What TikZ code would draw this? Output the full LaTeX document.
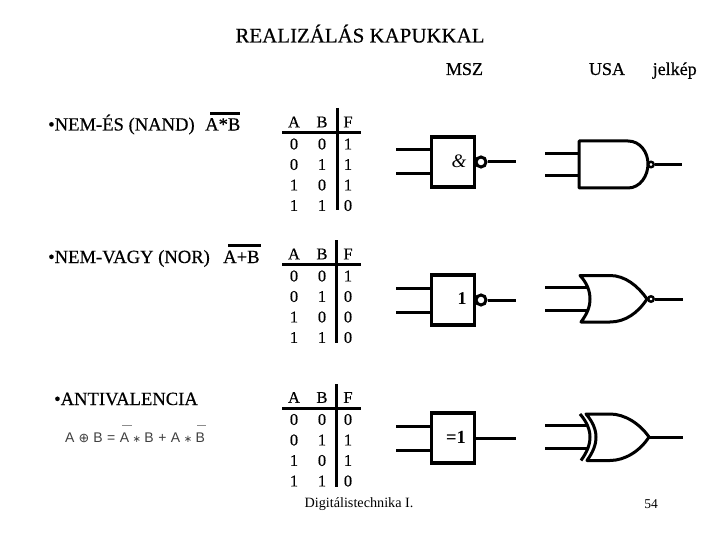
\documentclass[tikz,border=0pt]{standalone}
\usepackage{fontspec}
\setmainfont{Liberation Serif}
\newfontfamily\arialf{Liberation Sans}
\newfontfamily\dejaf{DejaVu Sans}
\newfontfamily\heavyf[FakeBold=0.5]{Liberation Serif}
\tikzset{
  x=1pt,y=-1pt,
  wire/.style={line width=3pt},
  thinw/.style={line width=3pt},
  gatebox/.style={draw,line width=3.6pt,minimum width=43pt,minimum height=50pt,inner sep=0pt},
  bubble/.style={draw,circle,line width=3pt,minimum size=10pt,inner sep=0pt,fill=white},
  usabubble/.style={draw,circle,line width=2.4pt,minimum size=5.5pt,inner sep=0pt,fill=white},
  gatebody/.style={line width=3pt,line join=round},
  cell/.style={inner sep=0pt,font=\heavyf\fontsize{16.5}{16}\selectfont},
  rulew/.style={line width=3pt},
  label/.style={inner sep=0pt,font=\heavyf\fontsize{18.6}{18}\selectfont,anchor=base west},
  head/.style={inner sep=0pt,font=\heavyf\fontsize{18}{18}\selectfont,anchor=base},
  foot/.style={inner sep=0pt,font=\fontsize{14.2}{14}\selectfont},
  form/.style={inner sep=0pt,text=black!75,font=\arialf\fontsize{14}{14}\selectfont},
  barg/.style={line width=1.5pt,black!45}
}
\newcommand{\ttable}[9]{%
  \coordinate (#1hl) at (282,#2); \coordinate (#1hr) at (361,#2);
  \coordinate (#1vt) at (#3,#4); \coordinate (#1vb) at (#3,#5);
  \draw[rulew] (#1hl) -- (#1hr);
  \draw[rulew] (#1vt) -- (#1vb);
  \node[cell] (#1a) at (294,#2-10.5) {A};
  \node[cell] (#1b) at (322,#2-10.5) {B};
  \node[cell] (#1f) at (348,#2-10.5) {F};
  \node[cell] (#1a0) at (294,#2+11.5) {0};
  \node[cell] (#1b0) at (322,#2+11.5) {0};
  \node[cell] (#1f0) at (348,#2+11.5) {#6};
  \node[cell] (#1a1) at (294,#2+32) {0};
  \node[cell] (#1b1) at (322,#2+32) {1};
  \node[cell] (#1f1) at (348,#2+32) {#7};
  \node[cell] (#1a2) at (294,#2+52.5) {1};
  \node[cell] (#1b2) at (322,#2+52.5) {0};
  \node[cell] (#1f2) at (348,#2+52.5) {#8};
  \node[cell] (#1a3) at (294,#2+73) {1};
  \node[cell] (#1b3) at (322,#2+73) {1};
  \node[cell] (#1f3) at (348,#2+73) {#9};
}
\begin{document}
\begin{tikzpicture}
\useasboundingbox[fill=white] (0,0) rectangle (720,540);
% titles
\node[head,font=\heavyf\fontsize{20.9}{20}\selectfont] (title) at (360,42.5) {REALIZÁLÁS KAPUKKAL};
\node[head] (msz) at (464.5,75) {MSZ};
\node[head] (usa) at (607,75) {USA};
\node[head] (jel) at (674.7,75) {jelkép};
% left labels
\node[label] (l1) at (48,130.5) {•NEM-ÉS (NAND)};
\node[label] (l1f) at (205,130.5) {A*B};
\coordinate (b1a) at (210,114); \coordinate (b1b) at (240,114);
\draw[rulew] (b1a) -- (b1b);
\node[label] (l2) at (48,263) {•NEM-VAGY (NOR)};
\node[label] (l2f) at (223,263) {A+B};
\coordinate (b2a) at (228,245.5); \coordinate (b2b) at (261,245.5);
\draw[rulew] (b2a) -- (b2b);
\node[label] (l3) at (54,405) {•ANTIVALENCIA};
% formula
\node[form,anchor=base west] (fm) at (65,442) {A\hspace{4pt}{\dejaf\fontsize{12.8}{14}\selectfont ⊕}\hspace{4pt}B\hspace{4.5pt}=\hspace{4.5pt}A\hspace{3.5pt}{\dejaf\fontsize{10}{14}\selectfont ∗}\hspace{3.5pt}B\hspace{4.5pt}+\hspace{4.5pt}A\hspace{3.5pt}{\dejaf\fontsize{10}{14}\selectfont ∗}\hspace{3.5pt}B};
\coordinate (f1a) at (122,425.5); \coordinate (f1b) at (132,425.5);
\coordinate (f2a) at (197,425.5); \coordinate (f2b) at (206,425.5);
\draw[barg] (f1a) -- (f1b);
\draw[barg] (f2a) -- (f2b);
% tables
\ttable{p}{132.5}{337}{108}{210}{1}{1}{1}{0}
\ttable{q}{264.5}{336}{240}{343}{1}{0}{0}{0}
\ttable{r}{408}{336}{384}{486.5}{0}{1}{1}{0}
% MSZ gates
\node[gatebox] (g1) at (453,162) {};
\node[inner sep=0pt,font=\itshape\fontsize{19}{18}\selectfont] (g1t) at (459,161) {\&};
\node[bubble] (g1b) at (481,162) {};
\coordinate (g1i1) at (396,150); \coordinate (g1i2) at (396,174); \coordinate (g1o) at (516,162);
\draw[wire] (g1i1) -- (g1i1 -| g1.west);
\draw[wire] (g1i2) -- (g1i2 -| g1.west);
\draw[wire] (g1b.east) -- (g1o);
\node[gatebox] (g2) at (453,300) {};
\node[inner sep=0pt,font=\bfseries\fontsize{18}{18}\selectfont] (g2t) at (462,299) {1};
\node[bubble] (g2b) at (481,300) {};
\coordinate (g2i1) at (396,288); \coordinate (g2i2) at (396,312); \coordinate (g2o) at (516,300);
\draw[wire] (g2i1) -- (g2i1 -| g2.west);
\draw[wire] (g2i2) -- (g2i2 -| g2.west);
\draw[wire] (g2b.east) -- (g2o);
\node[gatebox] (g3) at (453,438) {};
\node[inner sep=0pt,font=\bfseries\fontsize{18.5}{18}\selectfont] (g3t) at (456,437) {=1};
\coordinate (g3i1) at (396,426); \coordinate (g3i2) at (396,450); \coordinate (g3o) at (516,438);
\draw[wire] (g3i1) -- (g3i1 -| g3.west);
\draw[wire] (g3i2) -- (g3i2 -| g3.west);
\draw[wire] (g3.east) -- (g3o);
% USA NAND
\draw[gatebody] (579,141) -- (628,141) .. controls (640,141) and (648,152) .. (648,164) .. controls (648,176) and (640,188) .. (628,188) -- (579,188) -- cycle;
\node[usabubble] (u1b) at (651,164.5) {};
\coordinate (u1i1) at (545,153.5); \coordinate (u1i2) at (545,176); \coordinate (u1e1) at (579,153.5); \coordinate (u1e2) at (579,176); \coordinate (u1o) at (682,164.5);
\draw[thinw] (u1i1) -- (u1e1);
\draw[thinw] (u1i2) -- (u1e2);
\draw[thinw] (u1b.east) -- (u1o);
% USA NOR
\draw[gatebody] (580,275.5) .. controls (587,283) and (590,291) .. (590,299) .. controls (590,307) and (587,314) .. (581,322) -- (610,322) .. controls (625,322) and (638,313) .. (647,299) .. controls (638,286) and (625,275.5) .. (610,275.5) -- cycle;
\node[usabubble] (u2b) at (651,299) {};
\coordinate (u2i1) at (545,287.5); \coordinate (u2i2) at (545,310.5); \coordinate (u2e1) at (589,287.5); \coordinate (u2e2) at (589,310.5); \coordinate (u2o) at (683,299);
\draw[thinw] (u2i1) -- (u2e1);
\draw[thinw] (u2i2) -- (u2e2);
\draw[wire] (u2b.east) -- (u2o);
% USA XOR
\draw[gatebody] (586,414) .. controls (593,422) and (596,430) .. (596,437) .. controls (596,445) and (593,452) .. (587,460.5) -- (610,460.5) .. controls (625,460.5) and (640,451) .. (649,437) .. controls (640,424) and (625,414) .. (610,414) -- cycle;
\draw[gatebody] (580,414) .. controls (587,422) and (590,430) .. (590,437) .. controls (590,445) and (587,452) .. (581,460.5);
\coordinate (u3i1) at (545,425.5); \coordinate (u3i2) at (545,448.5); \coordinate (u3e1) at (588,425.5); \coordinate (u3e2) at (588,448.5); \coordinate (u3s) at (649,437); \coordinate (u3o) at (683,437);
\draw[thinw] (u3i1) -- (u3e1);
\draw[thinw] (u3i2) -- (u3e2);
\draw[wire] (u3s) -- (u3o);
% footer
\node[foot] (ft) at (359,504) {Digitálistechnika I.};
\node[foot,font=\fontsize{13.5}{14}\selectfont] (pg) at (651,504) {54};
\end{tikzpicture}
\end{document}
